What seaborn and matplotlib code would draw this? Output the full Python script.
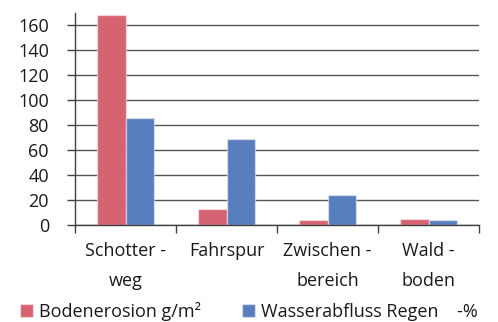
import numpy as np
import pandas as pd
import seaborn as sns
import matplotlib.pyplot as plt

# Categories along the x axis (line breaks as printed under the ticks)
categories = ["Schotter -\nweg", "Fahrspur", "Zwischen -\nbereich", "Wald -\nboden"]
# Series values
erosion = [168, 13, 4, 5]        # Bodenerosion g/m²
runoff = [86, 69, 24, 4]         # Wasserabfluss Regen %
series = ["Bodenerosion g/m²", "Wasserabfluss Regen    -%"]
colors = ["#D66371", "#587EBE"]
yticks = [0, 20, 40, 60, 80, 100, 120, 140, 160]

df = pd.DataFrame({
    "Kategorie": categories * 2,
    "Wert": erosion + runoff,
    "Reihe": [series[0]] * len(categories) + [series[1]] * len(categories),
})

sns.set_theme(style="white")
plt.rcParams["font.family"] = ["Open Sans", "DejaVu Sans"]
plt.rcParams["ytick.left"] = True
plt.rcParams["xtick.bottom"] = True

W, H = 498, 322
fig = plt.figure(figsize=(W / 100, H / 100), dpi=100)
ax = fig.add_axes([75 / W, 1 - 225 / H, 404 / W, (225 - 12.8) / H])

sns.barplot(data=df, x="Kategorie", y="Wert", hue="Reihe", order=categories,
            hue_order=series, palette=colors, saturation=1, width=0.57,
            edgecolor=(1, 1, 1, 0.45), linewidth=1, errorbar=None, ax=ax)

ax.set_xlim(-0.5, len(categories) - 0.5)
ax.set_ylim(0, 170)
ax.set_yticks(yticks)
ax.set_xlabel("")
ax.set_ylabel("")

axis_col = "#404040"
ax.yaxis.grid(True, color="#555555", linewidth=1)
ax.xaxis.grid(False)
ax.set_axisbelow(True)
for s in ("top", "right"):
    ax.spines[s].set_visible(False)
for s in ("left", "bottom"):
    ax.spines[s].set_color(axis_col)
    ax.spines[s].set_linewidth(1)

text_col = "#1a1a1a"
fs = 13
ax.yaxis.set_tick_params(which="major", left=True, length=5.8, width=1,
                         color=axis_col, pad=13, labelsize=fs,
                         labelcolor=text_col)
# Category boundaries carry the tick marks; labels sit in the middle
ax.set_xticks(np.arange(-0.5, len(categories), 1.0), minor=True)
ax.xaxis.set_tick_params(which="minor", bottom=True, length=5.8, width=1,
                         color=axis_col, direction="out")
ax.xaxis.set_tick_params(which="major", bottom=True, length=0, pad=12.5,
                         labelsize=fs, labelcolor=text_col)
for lbl in ax.get_xticklabels():
    lbl.set_linespacing(1.85)

sns.move_legend(ax, "upper left", bbox_to_anchor=(0.022, 1 - 293 / H),
                bbox_transform=fig.transFigure, ncol=2, frameon=False,
                title=None, fontsize=fs, handlelength=0.72,
                handleheight=0.72, handletextpad=0.33, columnspacing=2.3,
                borderpad=0, labelcolor=text_col)

fig.savefig("out.png", dpi=100)
